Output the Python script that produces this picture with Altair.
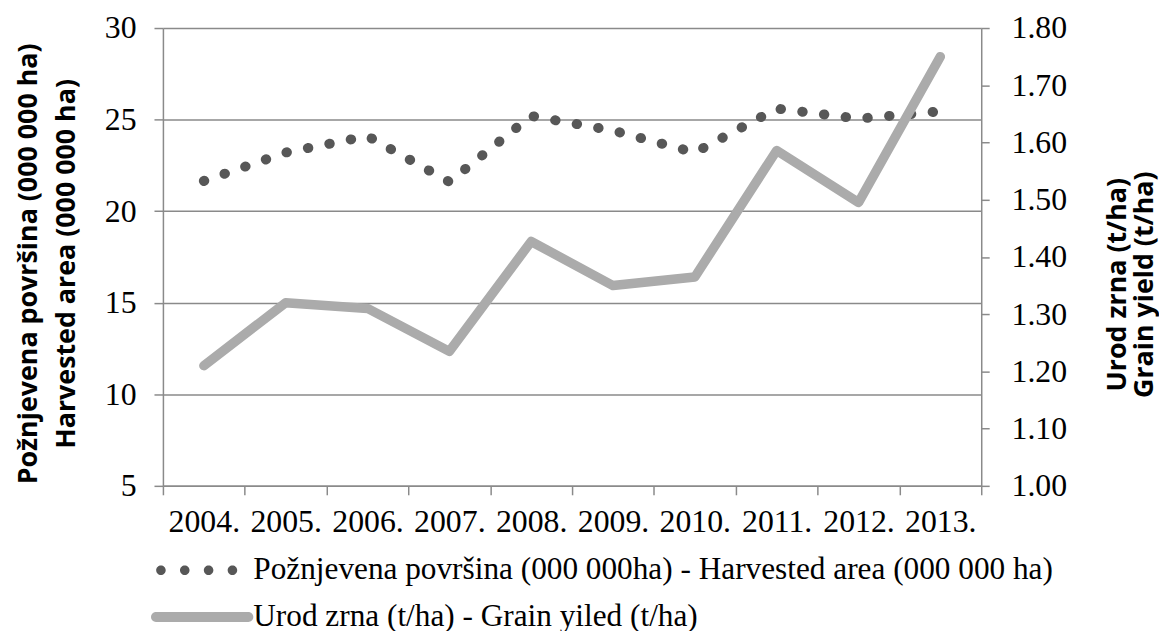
import altair as alt
import pandas as pd

years = ["2004.", "2005.", "2006.", "2007.", "2008.", "2009.", "2010.", "2011.", "2012.", "2013."]
harvested_area = [21.65, 23.2, 24.1, 21.6, 25.2, 24.4, 23.2, 25.6, 25.05, 25.45]
grain_yield = [1.21, 1.32, 1.31, 1.235, 1.427, 1.35, 1.365, 1.586, 1.495, 1.75]

name_area = "Požnjevena površina (000 000ha) - Harvested area (000 000 ha)"
name_yield = "Urod zrna (t/ha) - Grain yiled (t/ha)"
series_names = [name_area, name_yield]
series_colors = ["#575757", "#ababab"]

df_area = pd.DataFrame({"year": years, "value": harvested_area, "series": name_area})
df_yield = pd.DataFrame({"year": years, "value": grain_yield, "series": name_yield})
df_all = pd.concat([df_area, df_yield], ignore_index=True)

SERIF = "Liberation Serif"
SANS = "Open Sans"
AXIS_GRAY = "#8a8a8a"


def circle(cx, r):
    return f"M{cx - r},0 A{r},{r} 0 1,0 {cx + r},0 A{r},{r} 0 1,0 {cx - r},0 Z "


dots_symbol = "".join(circle(cx, 0.24) for cx in [-1.8, -0.6, 0.6, 1.8])
bar_symbol = (
    "M-2.05,-0.25 L2.6,-0.25 A0.25,0.25 0 0,1 2.6,0.25 "
    "L-2.05,0.25 A0.25,0.25 0 0,1 -2.05,-0.25 Z"
)

x_enc = alt.X(
    "year:O",
    sort=years,
    bandPosition=0.5,
    scale=alt.Scale(type="band", paddingInner=0, paddingOuter=0),
    axis=alt.Axis(
        title=None, labelAngle=0, tickBand="extent", grid=False,
        labelFont=SERIF, labelFontSize=32, labelColor="black",
        labelPadding=12, tickSize=9, tickColor=AXIS_GRAY, domainColor=AXIS_GRAY,
        tickWidth=1.5, domainWidth=1.5,
    ),
)

color_scale = alt.Scale(domain=series_names, range=series_colors)

legend_spec = alt.Legend(
    title=None, orient="none", legendX=14, legendY=526, padding=0,
    direction="vertical", symbolSize=1600, symbolStrokeWidth=0,
    labelFont="serif", labelFontSize=31.5, labelColor="black",
    labelOffset=37, rowPadding=11, labelLimit=1000, symbolOpacity=1,
)

area_line = alt.Chart(df_area).mark_line(
    strokeCap="round", strokeJoin="round", strokeWidth=10,
    strokeDash=[0.5, 21.5], color=series_colors[0],
).encode(
    x=x_enc,
    y=alt.Y(
        "value:Q",
        scale=alt.Scale(domain=[5, 30], nice=False, zero=False),
        axis=alt.Axis(
            title=["Požnjevena površina (000 000 ha)", "Harvested area (000 000 ha)"],
            titleFont=SANS, titleFontSize=27, titleFontWeight="bold", titleColor="black",
            titleLineHeight=38, titlePadding=24, titleY=237,
            values=[5, 10, 15, 20, 25, 30], labelFont=SERIF, labelFontSize=32,
            labelColor="black", labelPadding=18, tickSize=9, tickColor=AXIS_GRAY,
            tickWidth=1.5, domainColor=AXIS_GRAY, domainWidth=1.5,
            grid=True, gridColor=AXIS_GRAY, gridWidth=1.5,
        ),
    ),
)

yield_line = alt.Chart(df_yield).mark_line(
    strokeCap="round", strokeJoin="round", strokeWidth=9.5, color=series_colors[1],
).encode(
    x=x_enc,
    y=alt.Y(
        "value:Q",
        scale=alt.Scale(domain=[1.0, 1.8], nice=False, zero=False),
        axis=alt.Axis(
            orient="right",
            title=["Urod zrna (t/ha)", "Grain yield (t/ha)"],
            titleFont=SANS, titleFontSize=27, titleFontWeight="bold", titleColor="black",
            titleLineHeight=27, titlePadding=11, titleAngle=270, titleBaseline="top",
            titleY=258,
            values=[1.0, 1.1, 1.2, 1.3, 1.4, 1.5, 1.6, 1.7, 1.8], format=".2f",
            labelFont=SERIF, labelFontSize=32, labelColor="black", labelPadding=22,
            tickSize=8, tickColor=AXIS_GRAY, tickWidth=1.5,
            domainColor=AXIS_GRAY, domainWidth=1.5, grid=False,
        ),
    ),
)

legend_layer = alt.Chart(df_all).transform_filter("false").mark_point(
    filled=True, size=1600
).encode(
    x=x_enc,
    color=alt.Color("series:N", scale=color_scale, legend=legend_spec),
    shape=alt.Shape(
        "series:N",
        scale=alt.Scale(domain=series_names, range=[dots_symbol, bar_symbol]),
        legend=legend_spec,
    ),
)

chart = (
    alt.layer(area_line, yield_line, legend_layer)
    .resolve_scale(y="independent")
    .properties(
        width=824,
        height=461,
        padding={"left": 156, "top": 18, "right": 179, "bottom": 144},
        autosize=alt.AutoSizeParams(type="none"),
        background="white",
    )
    .configure(
        font=SERIF,
        style={"guide-label": {"font": SERIF}},
        legend=alt.LegendConfig(labelFont="serif", labelFontSize=31.5, labelColor="black"),
    )
    .configure_view(stroke=None)
)

chart.save("out.html", embed_options={"renderer": "svg", "actions": False})
